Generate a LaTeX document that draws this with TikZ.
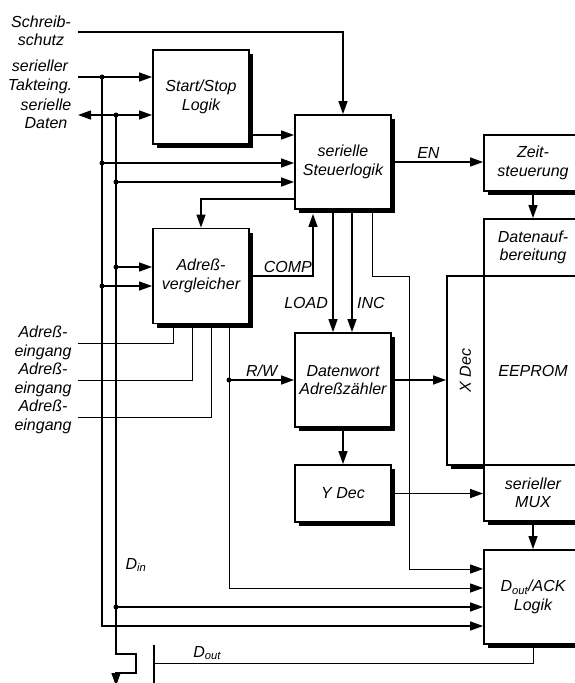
\documentclass[tikz,border=0pt]{standalone}
\usepackage{fontspec}
\setmainfont{Liberation Sans}
\usetikzlibrary{arrows.meta,positioning,shadows}

\tikzset{
  blk/.style={draw,line width=1.8pt,fill=white,align=center,minimum width=96pt,minimum height=94pt,
    drop shadow={shadow xshift=4pt,shadow yshift=-4pt,fill=black,opacity=1}},
  cell/.style={draw,line width=1.8pt,fill=white,align=center},
  lbl/.style={align=center},
  bus/.style={line width=1.3pt},
  wire/.style={line width=1pt},
}

\begin{document}
\begin{tikzpicture}[x=1pt,y=-1pt,>={Triangle[length=13pt,width=9pt]},
  font=\itshape\fontsize{16}{18.5}\selectfont,inner sep=2.5pt]
\useasboundingbox (0,0) rectangle (575,683);
% left hand blocks
\node[blk] (startstop) at (201,97) {Start/Stop\\Logik};
\node[blk] (steuer) at (343,162) {serielle\\Steuerlogik};
\node[blk,minimum height=95pt] (vergl) at (201,276) {Adreß-\\vergleicher};
\node[blk] (zaehler) at (343,380) {Datenwort\\Adreßzähler};
\node[blk,minimum height=57pt] (ydec) at (343,493.5) {Y Dec};
% memory column, cut at the right edge
\node[blk,minimum width=98pt,minimum height=56pt] (zeit) at (533,163) {Zeit-\\steuerung};
\node[blk,minimum width=37pt,minimum height=189pt] (xdec) at (465.5,370.5) {};
\node[rotate=90] (xdectxt) at (xdec.center) {X Dec};
\node[cell,minimum width=98pt,minimum height=57pt] (daufb) at (533,247.5) {Datenauf-\\bereitung};
\node[cell,minimum width=98pt,minimum height=189pt] (eeprom) at (533,370.5) {EEPROM};
\node[blk,minimum width=98pt,minimum height=56pt] (mux) at (533,493) {serieller\\MUX};
\node[blk,minimum width=98pt] (ackl) at (533,597) {D\textsubscript{out}/ACK\\Logik};
% pin labels
\node[lbl] (schreib) at (41,31) {Schreib-\\schutz};
\node[lbl] (takt) at (40,77) {serieller\\Takteing.};
\node[lbl] (sdaten) at (46,114) {serielle\\Daten};
\node[lbl] (adr1) at (43,343) {Adreß-\\eingang};
\node[lbl] (adr2) at (43,380) {Adreß-\\eingang};
\node[lbl] (adr3) at (43,417) {Adreß-\\eingang};
\node (din) at (136,565) {D\textsubscript{in}};
% pin ends, taps and columns
\coordinate (swin) at (78,32);
\coordinate (tkin) at (78,77);
\coordinate (dtin) at (78,115);
\coordinate (a1in) at (78,343);
\coordinate (a2in) at (78,380);
\coordinate (a3in) at (78,417);
\coordinate (bA) at (102,77);
\coordinate (bB) at (116,115);
\coordinate (dA) at (102,163);
\coordinate (dB) at (116,182);
\coordinate (dC) at (116,267);
\coordinate (dD) at (102,286);
\coordinate (dE) at (116,607);
\coordinate (dRW) at (229,380);
\coordinate (rowSS) at (0,135);
\coordinate (rowSV) at (0,199);
\coordinate (rowA) at (0,569);
\coordinate (rowB) at (0,588);
\coordinate (rowD) at (0,626);
\coordinate (cLd) at (333,0);
\coordinate (cIn) at (352,0);
\coordinate (cR) at (372,0);
\coordinate (kR) at (409,276);
\coordinate (cC) at (313,0);
\coordinate (cA1) at (173,0);
\coordinate (cA2) at (192,0);
\coordinate (cA3) at (211,0);
\coordinate (cRW) at (229,0);
\coordinate (j1) at (136,654);
\coordinate (j2) at (136,673);
\coordinate (dinend) at (116,686);
\coordinate (dout) at (154,663);
\coordinate (barT) at (154,645);
\coordinate (barB) at (154,690);
% inputs and buses
\draw[bus,->] (swin) -| (steuer.north);
\draw[bus,->] (tkin) -- (tkin -| startstop.west);
\draw[bus,<->] (dtin) -- (dtin -| startstop.west);
\draw[bus,->] (bA) |- (ackl.west |- rowD);
\draw[bus,->] (bB) |- (j1) -- (j2) -| (dinend);
\draw[bus,->] (dA) -- (dA -| steuer.west);
\draw[bus,->] (dB) -- (dB -| steuer.west);
\draw[bus,->] (dC) -- (dC -| vergl.west);
\draw[bus,->] (dD) -- (dD -| vergl.west);
\draw[bus,->] (dE) -- (dE -| ackl.west);
\foreach \p in {bA,bB,dA,dB,dC,dD,dE,dRW} \fill (\p) circle (2.5);
% control
\draw[bus,->] (startstop.east |- rowSS) -- (steuer.west |- rowSS);
\draw[bus,->] (steuer.west |- rowSV) -| (vergl.north);
\draw[bus,->] (steuer.east) -- (steuer.east -| zeit.west) node[pos=0.4,above] (en) {EN};
\draw[bus,->] (zeit.south) -- (daufb.north);
\draw[bus,->] (steuer.south -| cLd) -- (zaehler.north -| cLd) node[pos=0.76,left,xshift=-2pt] (load) {LOAD};
\draw[bus,->] (steuer.south -| cIn) -- (zaehler.north -| cIn) node[pos=0.76,right,xshift=2pt] (inc) {INC};
\draw[wire,->] (steuer.south -| cR) |- (kR) |- (ackl.west |- rowA);
\draw[bus,->,shorten >=4pt] (vergl.east) -| (steuer.south -| cC) node[pos=0.3,above] (comp) {COMP};
% address inputs and R/W
\draw[wire] (a1in) -| (vergl.south -| cA1);
\draw[wire] (a2in) -| (vergl.south -| cA2);
\draw[wire] (a3in) -| (vergl.south -| cA3);
\draw[wire,->] (vergl.south -| cRW) |- (ackl.west |- rowB);
\draw[bus,->] (dRW) -- (zaehler.west) node[midway,above] (rw) {R/W};
% data path
\draw[bus,->] (zaehler.east) -- (zaehler.east -| xdec.west);
\draw[bus,->] (zaehler.south) -- (ydec.north);
\draw[bus,->] (ydec.east) -- (ydec.east -| mux.west);
\draw[bus,->] (mux.south) -- (ackl.north);
\draw[wire] (ackl.south) |- (dout) node[pos=0.93,above] (doutl) {D\textsubscript{out}};
\draw[line width=2pt] (barT) -- (barB);
\end{tikzpicture}
\end{document}
